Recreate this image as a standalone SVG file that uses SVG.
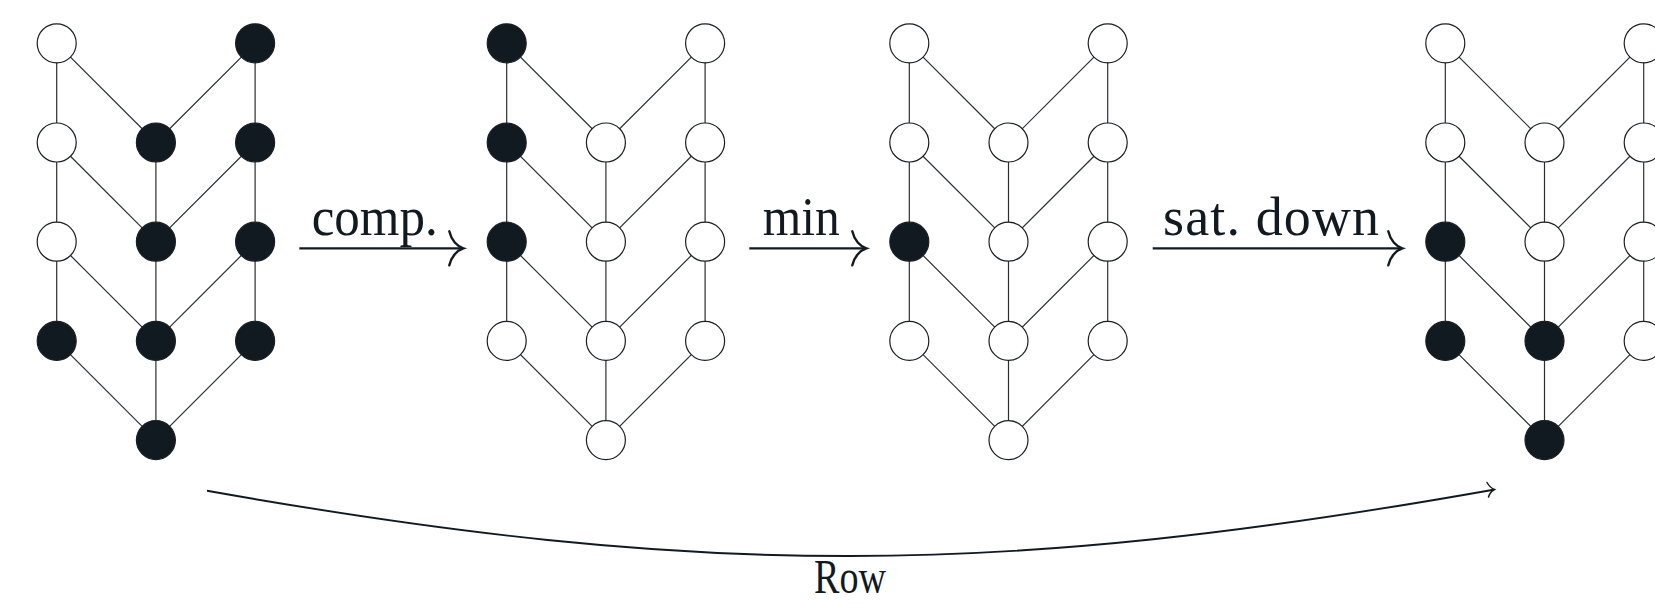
<svg xmlns="http://www.w3.org/2000/svg" width="1655" height="604" viewBox="0 0 1655 604">
  <style>
    .edge { stroke: #2a2f33; stroke-width: 1.2; fill: none; }
    .node { stroke: #1a1f24; stroke-width: 1.2; }
    .w { fill: #ffffff; }
    .b { fill: #121a21; }
    .arr { stroke: #121a21; stroke-width: 2.2; fill: none; }
    .head { stroke: #121a21; stroke-width: 2.4; fill: none; stroke-linecap: round; }
    .lbl { font-family: "Liberation Serif", "DejaVu Serif", serif; font-size: 54px; fill: #121a21; }
  </style>
  <defs>
    <!-- shared lattice edges, drawn relative to the top-left node -->
    <g id="lattice" class="edge">
      <line x1="0" y1="0" x2="0" y2="297.6"/>
      <line x1="198.4" y1="0" x2="198.4" y2="297.6"/>
      <line x1="99.2" y1="99.2" x2="99.2" y2="396.8"/>
      <line x1="0" y1="0" x2="99.2" y2="99.2"/>
      <line x1="0" y1="99.2" x2="99.2" y2="198.4"/>
      <line x1="0" y1="198.4" x2="99.2" y2="297.6"/>
      <line x1="0" y1="297.6" x2="99.2" y2="396.8"/>
      <line x1="198.4" y1="0" x2="99.2" y2="99.2"/>
      <line x1="198.4" y1="99.2" x2="99.2" y2="198.4"/>
      <line x1="198.4" y1="198.4" x2="99.2" y2="297.6"/>
      <line x1="198.4" y1="297.6" x2="99.2" y2="396.8"/>
    </g>
    <path id="tip" d="M -14 -17 C -12 -8 -6 -2 0 0 C -6 2 -12 8 -14 17"/>
  </defs>

  <!-- lattice 1 -->
  <g id="g1" transform="translate(56.7,43.3)">
    <use href="#lattice"/>
    <circle class="node w" cx="0" cy="0" r="19.5"/>
    <circle class="node w" cx="0" cy="99.2" r="19.5"/>
    <circle class="node w" cx="0" cy="198.4" r="19.5"/>
    <circle class="node b" cx="0" cy="297.6" r="19.5"/>
    <circle class="node b" cx="99.2" cy="99.2" r="19.5"/>
    <circle class="node b" cx="99.2" cy="198.4" r="19.5"/>
    <circle class="node b" cx="99.2" cy="297.6" r="19.5"/>
    <circle class="node b" cx="99.2" cy="396.8" r="19.5"/>
    <circle class="node b" cx="198.4" cy="0" r="19.5"/>
    <circle class="node b" cx="198.4" cy="99.2" r="19.5"/>
    <circle class="node b" cx="198.4" cy="198.4" r="19.5"/>
    <circle class="node b" cx="198.4" cy="297.6" r="19.5"/>
  </g>

  <!-- lattice 2 -->
  <g id="g2" transform="translate(506.7,43.3)">
    <use href="#lattice"/>
    <circle class="node b" cx="0" cy="0" r="19.5"/>
    <circle class="node b" cx="0" cy="99.2" r="19.5"/>
    <circle class="node b" cx="0" cy="198.4" r="19.5"/>
    <circle class="node w" cx="0" cy="297.6" r="19.5"/>
    <circle class="node w" cx="99.2" cy="99.2" r="19.5"/>
    <circle class="node w" cx="99.2" cy="198.4" r="19.5"/>
    <circle class="node w" cx="99.2" cy="297.6" r="19.5"/>
    <circle class="node w" cx="99.2" cy="396.8" r="19.5"/>
    <circle class="node w" cx="198.4" cy="0" r="19.5"/>
    <circle class="node w" cx="198.4" cy="99.2" r="19.5"/>
    <circle class="node w" cx="198.4" cy="198.4" r="19.5"/>
    <circle class="node w" cx="198.4" cy="297.6" r="19.5"/>
  </g>

  <!-- lattice 3 -->
  <g id="g3" transform="translate(909.3,43.3)">
    <use href="#lattice"/>
    <circle class="node w" cx="0" cy="0" r="19.5"/>
    <circle class="node w" cx="0" cy="99.2" r="19.5"/>
    <circle class="node b" cx="0" cy="198.4" r="19.5"/>
    <circle class="node w" cx="0" cy="297.6" r="19.5"/>
    <circle class="node w" cx="99.2" cy="99.2" r="19.5"/>
    <circle class="node w" cx="99.2" cy="198.4" r="19.5"/>
    <circle class="node w" cx="99.2" cy="297.6" r="19.5"/>
    <circle class="node w" cx="99.2" cy="396.8" r="19.5"/>
    <circle class="node w" cx="198.4" cy="0" r="19.5"/>
    <circle class="node w" cx="198.4" cy="99.2" r="19.5"/>
    <circle class="node w" cx="198.4" cy="198.4" r="19.5"/>
    <circle class="node w" cx="198.4" cy="297.6" r="19.5"/>
  </g>

  <!-- lattice 4 -->
  <g id="g4" transform="translate(1445.3,43.3)">
    <use href="#lattice"/>
    <circle class="node w" cx="0" cy="0" r="19.5"/>
    <circle class="node w" cx="0" cy="99.2" r="19.5"/>
    <circle class="node b" cx="0" cy="198.4" r="19.5"/>
    <circle class="node b" cx="0" cy="297.6" r="19.5"/>
    <circle class="node w" cx="99.2" cy="99.2" r="19.5"/>
    <circle class="node w" cx="99.2" cy="198.4" r="19.5"/>
    <circle class="node b" cx="99.2" cy="297.6" r="19.5"/>
    <circle class="node b" cx="99.2" cy="396.8" r="19.5"/>
    <circle class="node w" cx="198.4" cy="0" r="19.5"/>
    <circle class="node w" cx="198.4" cy="99.2" r="19.5"/>
    <circle class="node w" cx="198.4" cy="198.4" r="19.5"/>
    <circle class="node w" cx="198.4" cy="297.6" r="19.5"/>
  </g>

  <!-- transition arrows -->
  <g id="connectors">
    <line class="arr" x1="299.3" y1="248.3" x2="462" y2="248.3"/>
    <use class="head" href="#tip" transform="translate(463.3,248.3)"/>
    <line class="arr" x1="749.3" y1="248.3" x2="865" y2="248.3"/>
    <use class="head" href="#tip" transform="translate(866.3,248.3)"/>
    <line class="arr" x1="1152.7" y1="248.3" x2="1401" y2="248.3"/>
    <use class="head" href="#tip" transform="translate(1402.3,248.3)"/>
    <path class="arr" style="stroke-width:1.9" d="M 207 490.8 C 703 578.5 998 577.5 1493.5 489.7"/>
    <path class="head" style="stroke-width:1.5" d="M 1487 482.5 C 1489 486 1491.5 488.5 1494.5 489.5 C 1491.5 491 1489.5 493.5 1488.5 497"/>
  </g>

  <!-- labels -->
  <text class="lbl" x="311.7" y="235" textLength="126" lengthAdjust="spacingAndGlyphs">comp.</text>
  <text class="lbl" x="762.7" y="235" textLength="77" lengthAdjust="spacingAndGlyphs">min</text>
  <text class="lbl" x="1163" y="235" textLength="216" lengthAdjust="spacing">sat. down</text>
  <text class="lbl" style="font-size:48px" x="814" y="593" textLength="72" lengthAdjust="spacingAndGlyphs">Row</text>
</svg>
